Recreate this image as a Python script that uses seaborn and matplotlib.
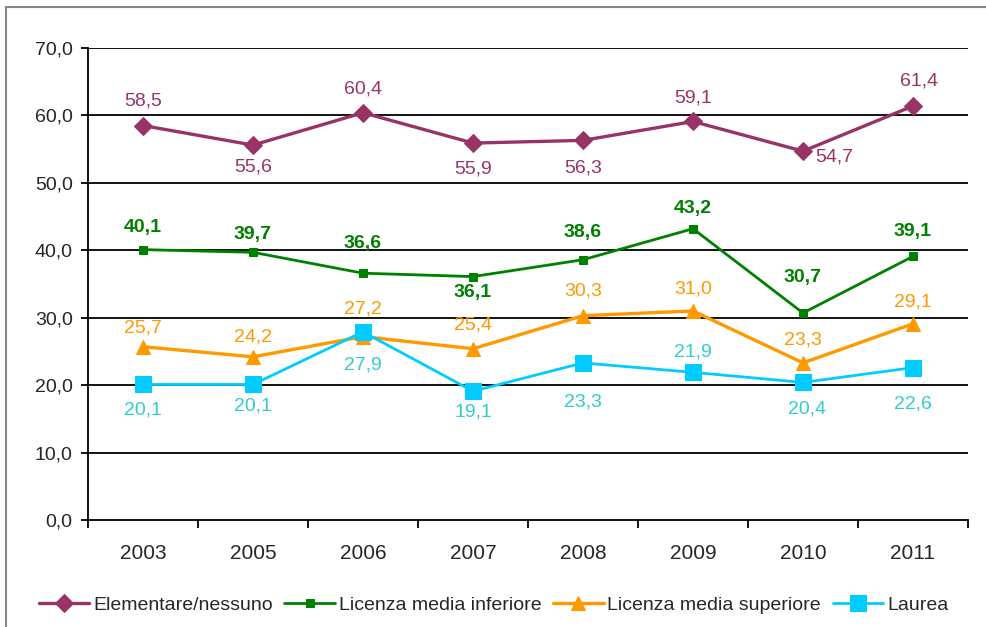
import matplotlib
matplotlib.use('Agg')
import matplotlib.pyplot as plt
from matplotlib.lines import Line2D
import seaborn as sns
import pandas as pd
import numpy as np

# ---------- dati ----------
anni = ['2003', '2005', '2006', '2007', '2008', '2009', '2010', '2011']
elementare = [58.5, 55.6, 60.4, 55.9, 56.3, 59.1, 54.7, 61.4]
media_inf  = [40.1, 39.7, 36.6, 36.1, 38.6, 43.2, 30.7, 39.1]
media_sup  = [25.7, 24.2, 27.2, 25.4, 30.3, 31.0, 23.3, 29.1]
laurea     = [20.1, 20.1, 27.9, 19.1, 23.3, 21.9, 20.4, 22.6]

serie = ['Elementare/nessuno', 'Licenza media inferiore',
         'Licenza media superiore', 'Laurea']
valori = [elementare, media_inf, media_sup, laurea]

# ---------- stile ----------
colori_linea = ['#993366', '#008000', '#FF9900', '#00CCFF']
colori_testo = ['#993366', '#008000', '#FF9900', '#33CCCC']
marker       = ['D', 's', '^', 's']
marker_size  = [9, 6, 10, 11]
spessori     = [2.4, 2.0, 2.4, 2.0]
pesi_testo   = ['normal', 'bold', 'normal', 'normal']

# offset etichette in pixel (dx, dy verso il basso positivo) per serie/anno
offset_etichette = [
    [(0, -25), (0, 22), (0, -24), (0, 26), (0, 28), (0, -23), (31, 6), (6, -25)],
    [(0, -22), (0, -18), (0, -30), (0, 16), (0, -27), (0, -20), (0, -35), (0, -25)],
    [(0, -19), (0, -20), (0, -28), (0, -24), (0, -25), (0, -22), (0, -23), (0, -22)],
    [(0, 26), (0, 22), (0, 33), (0, 21), (0, 39), (0, -20), (4, 27), (0, 36)],
]

rows = []
for nome, vals in zip(serie, valori):
    for i, v in enumerate(vals):
        rows.append({'x': i, 'Anno': anni[i], 'Valore': v, 'Serie': nome})
df = pd.DataFrame(rows)

sns.set_style('white')
plt.rcParams['font.family'] = ['Liberation Sans', 'DejaVu Sans']

fig = plt.figure(figsize=(9.87, 6.27), dpi=100)
ax = fig.add_axes([88 / 987, 1 - 520 / 627, 880 / 987, 472 / 627])

# griglia orizzontale nera
for y in np.arange(10, 71, 10):
    ax.axhline(y, color='black', linewidth=1.3, zorder=1)

for k, nome in enumerate(serie):
    sns.lineplot(data=df[df['Serie'] == nome], x='x', y='Valore', ax=ax,
                 color=colori_linea[k], marker=marker[k], markersize=marker_size[k],
                 markeredgecolor=colori_linea[k], linewidth=spessori[k],
                 label=nome, zorder=3 + k, estimator=None)

for k, vals in enumerate(valori):
    for i, v in enumerate(vals):
        dx, dy = offset_etichette[k][i]
        ax.annotate(f'{v:.1f}'.replace('.', ','), (i, v), xytext=(dx, -dy),
                    textcoords='offset pixels', ha='center', va='center',
                    fontsize=14, color=colori_testo[k], fontweight=pesi_testo[k],
                    zorder=10)

ax.set_xlim(-0.5, len(anni) - 0.5)
ax.set_ylim(0, 70)
ax.set_yticks(np.arange(0, 71, 10))
ax.set_yticklabels([f'{t:.1f}'.replace('.', ',') for t in np.arange(0, 71, 10)],
                   fontsize=14)
ax.set_xticks(range(len(anni)))
ax.set_xticklabels(anni, fontsize=15)
ax.set_xticks(np.arange(-0.5, len(anni), 1), minor=True)
ax.tick_params(axis='x', which='major', length=0, pad=17)
ax.tick_params(axis='x', which='minor', length=6, width=1.3, color='black',
               direction='out', bottom=True)
ax.tick_params(axis='y', length=5, width=1.3, color='black', direction='out',
               left=True, pad=6)
ax.set_xlabel('')
ax.set_ylabel('')

for s in ['top', 'right']:
    ax.spines[s].set_visible(False)
for s in ['left', 'bottom']:
    ax.spines[s].set_color('black')
    ax.spines[s].set_linewidth(1.3)

leg = ax.legend(loc='center', bbox_to_anchor=(0.5, 1 - 605 / 627),
                bbox_transform=fig.transFigure, ncol=4, frameon=False,
                fontsize=14, handlelength=2.6, handletextpad=0.2,
                columnspacing=0.6)

# cornice esterna
fig.add_artist(Line2D([6 / 987, 1], [1 - 7 / 627, 1 - 7 / 627],
                      transform=fig.transFigure, color='#888888', linewidth=1.5))
fig.add_artist(Line2D([6 / 987, 6 / 987], [0, 1 - 7 / 627],
                      transform=fig.transFigure, color='#888888', linewidth=1.5))

fig.savefig('out.png', dpi=100)
